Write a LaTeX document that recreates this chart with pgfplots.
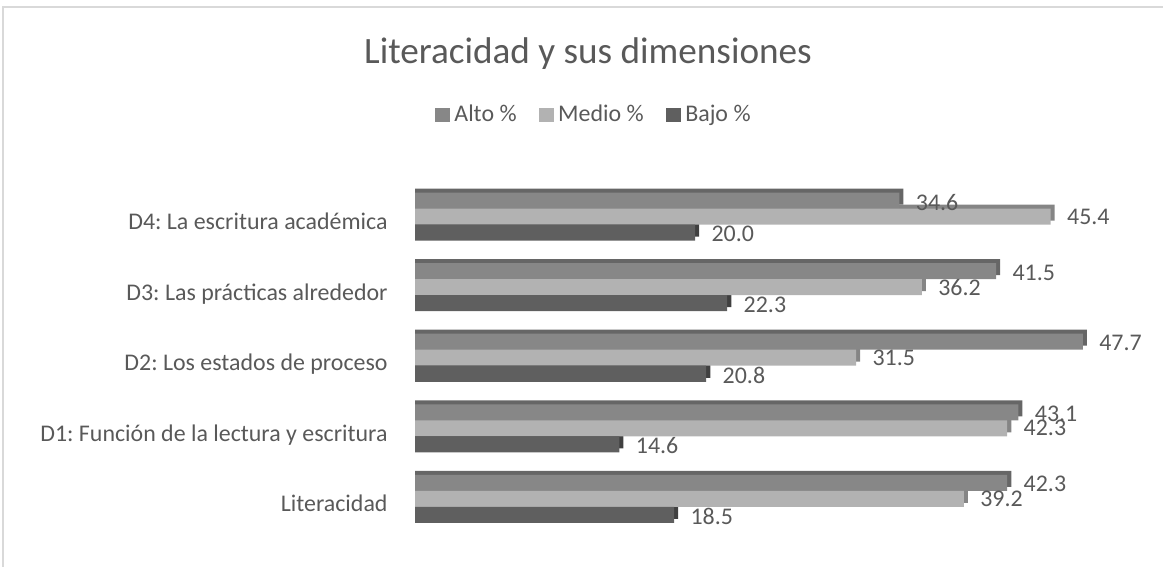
\documentclass[border=0pt]{standalone}
\usepackage{fontspec}
\setmainfont{Carlito}
\usepackage{pgfplots}
\usepackage{pgfplotstable}
\pgfplotsset{compat=1.18}
\frenchspacing
\definecolor{cAlto}{HTML}{878787}
\definecolor{cAltoD}{HTML}{666666}
\definecolor{cMedio}{HTML}{B2B2B2}
\definecolor{cMedioD}{HTML}{858585}
\definecolor{cBajo}{HTML}{5F5F5F}
\definecolor{cBajoD}{HTML}{404040}
\definecolor{txt}{HTML}{595959}
\definecolor{brd}{HTML}{D9D9D9}
\pgfplotstableread{
y alto medio bajo altob mediob bajob
0 42.3 39.2 18.5 42.59 39.49 18.79
1 43.1 42.3 14.6 43.39 42.59 14.89
2 47.7 31.5 20.8 47.99 31.79 21.09
3 41.5 36.2 22.3 41.79 36.49 22.59
4 34.6 45.4 20.0 34.89 45.69 20.29
}\data
\begin{document}
\begin{tikzpicture}
\begin{scope}[x=0.375bp, y=-0.375bp]
\useasboundingbox (0,0) rectangle (1163,567);
\draw[brd, line width=0.6bp] (3,567) -- (3,7) -- (1163,7);
\node[anchor=base, text=txt, font=\fontsize{14}{16}\selectfont] at (588,64) {Literacidad y sus dimensiones};
\end{scope}
\begin{axis}[
  at={(155.625bp,-200.25bp)}, anchor=south west,
  scale only axis, width=262.5bp, height=132.1875bp,
  xmin=0, xmax=50, ymin=-0.5, ymax=4.5,
  clip=false,
  axis line style={draw=none},
  xtick=\empty,
  ytick={0,1,2,3,4},
  yticklabels={Literacidad, D1: Función de la lectura y escritura, D2: Los estados de proceso, D3: Las prácticas alrededor, {D4: La escritura académica\hspace{4bp}}},
  major tick length=0pt,
  yticklabel style={anchor=base east, inner sep=0pt, xshift=-10.1bp, yshift=-4.9bp, text=txt, font=\fontsize{9}{11}\selectfont},
  /pgf/number format/assume math mode=true,
  /pgf/number format/.cd, fixed, fixed zerofill, precision=1, /pgfplots/.cd,
  legend style={at={(0.2572,1.1887)}, anchor=center, draw=none, fill=none,
    legend columns=3, font=\fontsize{9}{11}\selectfont, text=txt,
    /tikz/every even column/.append style={column sep=7bp},
    nodes={inner sep=1.5bp}},
  sq/.style={legend image code/.code={\fill[##1] (0bp,-2.8bp) rectangle (5.6bp,2.8bp);}},
  lbl/.style={nodes near coords, nodes near coords align=horizontal,
    every node near coord/.append style={anchor=west, inner sep=0pt, xshift=6bp, yshift=#1, text=txt, font=\fontsize{9}{11}\selectfont}},
]
% back faces (3D depth)
\addplot[xbar, bar width=6bp, bar shift=7.5bp, fill=cAltoD, draw=none, forget plot] table[x=altob, y=y] {\data};
\addplot[xbar, bar width=6bp, bar shift=1.5bp, fill=cMedioD, draw=none, forget plot] table[x=mediob, y=y] {\data};
\addplot[xbar, bar width=6bp, bar shift=-4.5bp, fill=cBajoD, draw=none, forget plot] table[x=bajob, y=y] {\data};
% front faces
\addplot[xbar, sq, bar width=6bp, bar shift=6bp, fill=cAlto, draw=none, lbl=5.5bp]
  table[x=alto, y=y] {\data};
\addlegendentry{Alto \%}
\addplot[xbar, sq, bar width=6bp, bar shift=0bp, fill=cMedio, draw=none, lbl=0bp]
  table[x=medio, y=y] {\data};
\addlegendentry{Medio \%}
\addplot[xbar, sq, bar width=6bp, bar shift=-6bp, fill=cBajo, draw=none, lbl=-6.5bp]
  table[x=bajo, y=y] {\data};
\addlegendentry{Bajo \%}
\end{axis}
\end{tikzpicture}
\end{document}
